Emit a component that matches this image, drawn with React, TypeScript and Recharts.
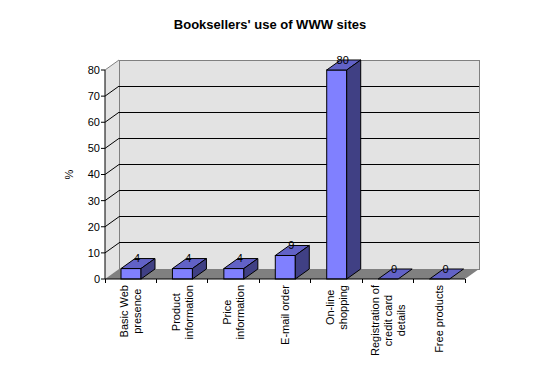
import React from 'react';
import { BarChart, Bar, XAxis, YAxis, ReferenceArea, ReferenceLine, LabelList } from 'recharts';

const title = "Booksellers' use of WWW sites";
const yAxisLabel = '%';
const categories = [
  'Basic Web\npresence',
  'Product\ninformation',
  'Price\ninformation',
  'E-mail order',
  'On-line\nshopping',
  'Registration of\ncredit card\ndetails',
  'Free products',
];
const values = [4, 4, 4, 9, 80, 0, 0];
const yTicks = [0, 10, 20, 30, 40, 50, 60, 70, 80];
const gridTicks = [10, 20, 30, 40, 50, 60, 70];

const data = categories.map((c, i) => ({ category: c, value: values[i] }));

const W = 540;
const H = 368;
const MARGIN = { top: 70, right: 75, bottom: 9, left: 65 };
const Y_AXIS_W = 40;
const X_AXIS_H = 80;
const PLOT_W = W - MARGIN.left - MARGIN.right - Y_AXIS_W;
const DX = 14;
const DY = 10;
const FONT = "'Liberation Sans', Arial, sans-serif";
const WALL = '#E3E3E3';
const FLOOR = '#808080';
const EDGE = '#808080';
const FRONT = '#8080FF';
const TOP = '#6262C6';
const SIDE = '#404084';
const LINE_H = 13;

let ctx: CanvasRenderingContext2D | null = null;
function textWidth(s: string): number {
  if (!ctx && typeof document !== 'undefined') {
    ctx = document.createElement('canvas').getContext('2d');
  }
  if (!ctx) return s.length * 5.5;
  ctx.font = `11px ${FONT}`;
  return ctx.measureText(s).width;
}

const Walls = (p: any) => {
  const { x, y, width: w, height: h } = p;
  return (
    <g>
      <polygon
        points={`${x},${y + h} ${x},${y} ${x + DX},${y - DY} ${x + DX},${y + h - DY}`}
        fill={WALL}
        stroke="none"
      />
      <rect x={x + DX} y={y - DY} width={w} height={h} fill={WALL} stroke={EDGE} strokeWidth={1} shapeRendering="crispEdges" />
      <line x1={x} y1={y} x2={x + DX} y2={y - DY} stroke={EDGE} strokeWidth={1} />
      <polygon
        points={`${x},${y + h} ${x + w},${y + h} ${x + w + DX},${y + h - DY} ${x + DX},${y + h - DY}`}
        fill={FLOOR}
        stroke="none"
      />
    </g>
  );
};

const GridLine = (p: any) => {
  const { x1, y1, x2 } = p;
  return (
    <g>
      <line x1={x1 + DX} y1={y1 - DY} x2={x2 + DX} y2={y1 - DY} stroke="#000" strokeWidth={1} shapeRendering="crispEdges" />
      <line x1={x1} y1={y1} x2={x1 + DX} y2={y1 - DY} stroke="#000" strokeWidth={1} />
    </g>
  );
};

const Box = (p: any) => {
  const { x, y, width: w, height: h } = p;
  if (x == null || y == null) return null;
  const hh = h || 0;
  return (
    <g stroke="#000" strokeWidth={1} strokeLinejoin="miter">
      {hh > 0 && <rect x={x} y={y} width={w} height={hh} fill={FRONT} />}
      <polygon points={`${x},${y} ${x + DX},${y - DY} ${x + w + DX},${y - DY} ${x + w},${y}`} fill={TOP} />
      {hh > 0 && (
        <polygon
          points={`${x + w},${y} ${x + w + DX},${y - DY} ${x + w + DX},${y + hh - DY} ${x + w},${y + hh}`}
          fill={SIDE}
        />
      )}
    </g>
  );
};

const ValueLabel = (p: any) => {
  const vb = p.viewBox && p.viewBox.x != null ? p.viewBox : p;
  const { x, y, width } = vb;
  return (
    <text
      x={x + width / 2 + 6}
      y={y - 10.5}
      textAnchor="middle"
      dominantBaseline="central"
      fontSize={11}
      fontFamily={FONT}
      fill="#000"
    >
      {p.value}
    </text>
  );
};

const XTick = (p: any) => {
  const { x, y, payload, index } = p;
  const lines = String(payload.value).split('\n');
  const bw = PLOT_W / categories.length;
  const maxW = Math.max(...lines.map(textWidth));
  const cy = y + 6 + maxW / 2;
  const n = lines.length;
  return (
    <g>
      {index === 0 && (
        <line x1={x - bw / 2} y1={y} x2={x - bw / 2} y2={y + 4} stroke="#000" shapeRendering="crispEdges" />
      )}
      <line x1={x + bw / 2} y1={y} x2={x + bw / 2} y2={y + 4} stroke="#000" shapeRendering="crispEdges" />
      {lines.map((l, i) => (
        <text
          key={i}
          x={x}
          y={cy + (i - (n - 1) / 2) * LINE_H}
          transform={`rotate(-90 ${x} ${cy})`}
          textAnchor="middle"
          dominantBaseline="central"
          fontSize={11}
          fontFamily={FONT}
          fill="#000"
        >
          {l}
        </text>
      ))}
    </g>
  );
};

const YLabel = (p: any) => {
  const vb = p.viewBox || { x: 65, y: 70, width: 40, height: 209 };
  const lx = vb.x + 4;
  const ly = vb.y + vb.height / 2;
  return (
    <text
      x={lx}
      y={ly}
      transform={`rotate(-90 ${lx} ${ly})`}
      textAnchor="middle"
      dominantBaseline="central"
      fontSize={11}
      fontFamily={FONT}
      fill="#000"
    >
      {yAxisLabel}
    </text>
  );
};

export default function App() {
  return (
    <div style={{ position: 'absolute', left: 0, top: 0, width: W, height: H, background: '#fff' }}>
      <div
        style={{
          position: 'absolute',
          left: 0,
          top: 17,
          width: W,
          textAlign: 'center',
          fontFamily: FONT,
          fontWeight: 'bold',
          fontSize: 13,
          lineHeight: '15px',
          color: '#000',
        }}
      >
        {title}
      </div>
      <BarChart width={W} height={H} data={data} margin={MARGIN} barSize={20}>
        <XAxis
          dataKey="category"
          interval={0}
          height={X_AXIS_H}
          tickLine={false}
          tickSize={0}
          tickMargin={0}
          axisLine={{ stroke: '#000' }}
          tick={(props: any) => <XTick {...props} />}
        />
        <YAxis
          width={Y_AXIS_W}
          domain={[0, 80]}
          ticks={yTicks}
          interval={0}
          tickSize={4}
          tickMargin={1}
          axisLine={{ stroke: '#000' }}
          tickLine={{ stroke: '#000' }}
          tick={{ fontSize: 11, fill: '#000', fontFamily: FONT }}
          label={{ content: (props: any) => <YLabel {...props} /> }}
        />
        <ReferenceArea y1={0} y2={80} shape={(props: any) => <Walls {...props} />} zIndex={50} ifOverflow="visible" />
        {gridTicks.map((t) => (
          <ReferenceLine
            key={t}
            y={t}
            shape={(props: any) => <GridLine {...props} />}
            zIndex={60}
            ifOverflow="visible"
          />
        ))}
        <Bar dataKey="value" isAnimationActive={false} shape={(props: any) => <Box {...props} />}>
          <LabelList dataKey="value" content={(props: any) => <ValueLabel {...props} />} />
        </Bar>
      </BarChart>
    </div>
  );
}
